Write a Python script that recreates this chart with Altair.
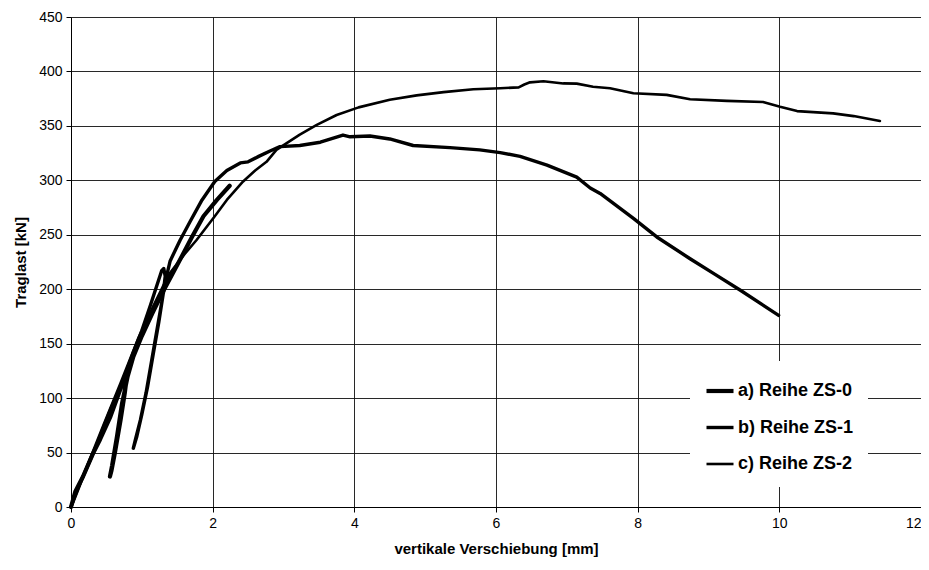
import altair as alt
import pandas as pd

series_names = ["a) Reihe ZS-0", "b) Reihe ZS-1", "c) Reihe ZS-2"]

zs0_x = [0.0, 0.06, 0.17, 0.31, 0.41, 0.55, 0.69, 0.80, 0.76, 0.70, 0.62, 0.57, 0.55, 0.58, 0.65, 0.72, 0.80,
         0.88, 1.0, 1.15, 1.30, 1.49, 1.70, 1.87, 2.06, 2.24]
zs0_y = [0, 14, 28, 49, 62, 82, 107, 125, 105, 80, 50, 33, 28, 38, 65, 95, 120,
         138, 157, 178, 198, 221, 247, 267, 282, 295]

zs1_x = [0.0, 0.15, 0.35, 0.55, 0.74, 0.88, 1.0, 1.12, 1.22, 1.28, 1.31, 1.33, 1.30, 1.24, 1.16, 1.08, 1.0,
         0.93, 0.88, 0.91, 0.98, 1.06, 1.14, 1.22, 1.30, 1.36, 1.40, 1.54, 1.68, 1.85, 2.03, 2.2, 2.39,
         2.5, 2.65, 2.81, 2.95, 3.23, 3.52, 3.84, 3.94, 4.22, 4.5, 4.83, 5.35, 5.77, 6.06, 6.34, 6.72,
         7.14, 7.33, 7.47, 7.94, 8.27, 8.74, 9.07, 9.45, 9.99]
zs1_y = [0, 25, 55, 88, 117, 142, 162, 185, 205, 217, 219, 212, 195, 170, 140, 110, 85,
         65, 54, 62, 80, 105, 135, 165, 195, 215, 226, 245, 262, 282, 299, 309, 316,
         317, 322, 327, 331, 332, 335, 341.6, 340, 340.7, 338, 332, 330, 328, 325.5, 322, 314,
         303, 293, 288, 265, 248, 228, 214.6, 199, 176]

zs2_x = [0.0, 0.2, 0.45, 0.7, 0.95, 1.15, 1.3, 1.40, 1.6, 1.77, 2.03, 2.2, 2.43, 2.6, 2.76, 2.90, 3.04,
         3.23, 3.47, 3.75, 4.06, 4.5, 4.88, 5.26, 5.68, 6.06, 6.32, 6.4, 6.48, 6.67, 6.95, 7.14, 7.37,
         7.61, 7.94, 8.41, 8.74, 9.26, 9.77, 10.01, 10.25, 10.76, 11.05, 11.42]
zs2_y = [0, 33, 74, 114, 155, 183, 203, 215, 232, 245, 267, 282, 299, 309, 317, 328, 334,
         342, 351, 360, 367, 374, 378, 381, 383.6, 384.5, 385.4, 388, 390, 391, 389, 388.8, 386,
         384.5, 380, 378.5, 374.5, 373, 372, 367.6, 363.6, 361.5, 359, 354.5]

x_ticks = [0, 2, 4, 6, 8, 10, 12]
y_ticks = [0, 50, 100, 150, 200, 250, 300, 350, 400, 450]
widths = [4.2, 2.6, 1.4]

rows = []
for name, xs, ys in zip(series_names, [zs0_x, zs1_x, zs2_x], [zs0_y, zs1_y, zs2_y]):
    for i, (xv, yv) in enumerate(zip(xs, ys)):
        rows.append({"series": name, "idx": i, "x": xv, "y": yv})
df = pd.DataFrame(rows)

FONT = "Liberation Sans"

chart = alt.Chart(df).mark_line(color="black", strokeCap="round", strokeJoin="round").encode(
    x=alt.X("x:Q", scale=alt.Scale(domain=[0, 12], nice=False),
            axis=alt.Axis(values=x_ticks, title="vertikale Verschiebung [mm]", titlePadding=11,
                          labelFlush=False,
                          labelAlign=alt.ExprRef(expr="datum.value == 12 ? 'right' : 'center'"))),
    y=alt.Y("y:Q", scale=alt.Scale(domain=[0, 450], nice=False),
            axis=alt.Axis(values=y_ticks, title="Traglast [kN]", titlePadding=10,
                          labelFlush=False)),
    detail="series:N",
    order="idx:Q",
    strokeWidth=alt.StrokeWidth(
        "series:N",
        scale=alt.Scale(domain=series_names, range=widths),
        legend=alt.Legend(
            orient="none", legendX=619, legendY=344, fillColor="white", padding=14,
            symbolType="stroke", symbolSize=730, symbolStrokeColor="black",
            labelFont=FONT, labelFontSize=18, labelFontWeight="bold", labelColor="black",
            labelOffset=2, rowPadding=12, title=None,
        ),
    ),
).properties(
    width=850, height=490,
    autosize=alt.AutoSizeParams(type="none"),
    padding={"left": 63, "top": 9, "right": 0, "bottom": 54},
).configure_view(strokeWidth=0).configure_axis(
    grid=True, gridColor="#111111", gridWidth=1, gridOpacity=0.9,
    domainColor="black", domainWidth=1, tickColor="black", tickSize=5,
    labelFont=FONT, labelFontSize=14, labelColor="black", labelPadding=4,
    titleFont=FONT, titleFontSize=15, titleFontWeight="bold", titleColor="black",
)

chart.save("out.html", embed_options={"renderer": "svg", "actions": False})
